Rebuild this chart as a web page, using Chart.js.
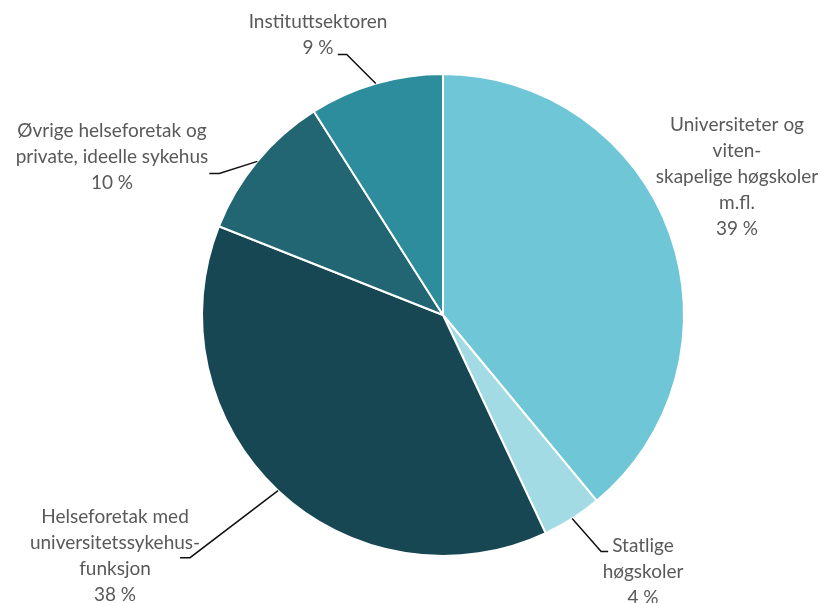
<!DOCTYPE html>
<html>
<head>
<meta charset="utf-8">
<script src="https://cdn.jsdelivr.net/npm/chart.js@4"></script>
<style>
  html, body { margin: 0; padding: 0; background: #fff; }
  #wrap { width: 822px; height: 603px; }
</style>
</head>
<body>
<div id="wrap"><canvas id="chart"></canvas></div>
<script>
// data
const categories = [
    ['Universiteter og', 'viten-', 'skapelige høgskoler', 'm.fl.'],
    ['Statlige', 'høgskoler'],
    ['Helseforetak med', 'universitetssykehus-', 'funksjon'],
    ['Øvrige helseforetak og', 'private, ideelle sykehus'],
    ['Instituttsektoren']
];
const shares = [39, 4, 38, 10, 9];
const colors = ['#6fc6d6', '#a3dbe5', '#174753', '#226673', '#2e8d9d'];

// label placement relative to pie centre (text) and slice edge (leader line)
const labelPos = [
    { tx: 294, ty: -190, line: null },
    { tx: 200, ty: 231, line: { dx: 29, dy: 33, hx: 7 } },
    { tx: -328, ty: 202, line: { dx: -88, dy: 67, hx: -10 } },
    { tx: -331, ty: -184, line: { dx: -38, dy: 12, hx: -10 } },
    { tx: -125, ty: -293, line: { dx: -29, dy: -29, hx: -9 } }
];

const FONT = '19px Lato, "Source Sans Pro", sans-serif';
const LINE_H = 26;

const outsideLabels = {
    id: 'outsideLabels',
    afterDraw(chart) {
        const ctx = chart.ctx;
        const arcs = chart.getDatasetMeta(0).data;
        ctx.save();
        ctx.font = FONT;
        ctx.fillStyle = '#595959';
        ctx.strokeStyle = '#111';
        ctx.lineWidth = 1.5;
        ctx.textBaseline = 'middle';
        arcs.forEach((arc, i) => {
            const p = arc.getProps(['x', 'y', 'startAngle', 'endAngle', 'outerRadius'], true);
            const mid = (p.startAngle + p.endAngle) / 2;
            const pos = labelPos[i];
            if (pos.line) {
                const ax = p.x + Math.cos(mid) * p.outerRadius;
                const ay = p.y + Math.sin(mid) * p.outerRadius;
                const ex = ax + pos.line.dx;
                const ey = ay + pos.line.dy;
                ctx.beginPath();
                ctx.moveTo(ax, ay);
                ctx.lineTo(ex, ey);
                ctx.lineTo(ex + pos.line.hx, ey);
                ctx.stroke();
            }
            const lines = categories[i].concat([shares[i] + ' %']);
            const cx = p.x + pos.tx;
            let y = p.y + pos.ty;
            ctx.textAlign = 'center';
            lines.forEach(t => {
                ctx.fillText(t, cx, y);
                y += LINE_H;
            });
        });
        ctx.restore();
    }
};

new Chart(document.getElementById('chart'), {
    type: 'pie',
    data: {
        labels: categories.map(c => c.join(' ')),
        datasets: [{
            data: shares,
            backgroundColor: colors,
            borderColor: '#ffffff',
            borderWidth: 2
        }]
    },
    options: {
        responsive: true,
        maintainAspectRatio: false,
        animation: false,
        layout: {
            padding: { left: 201, right: 137, top: 73, bottom: 46 }
        },
        plugins: {
            legend: { display: false },
            tooltip: { enabled: false }
        }
    },
    plugins: [outsideLabels]
});
</script>
</body>
</html>
